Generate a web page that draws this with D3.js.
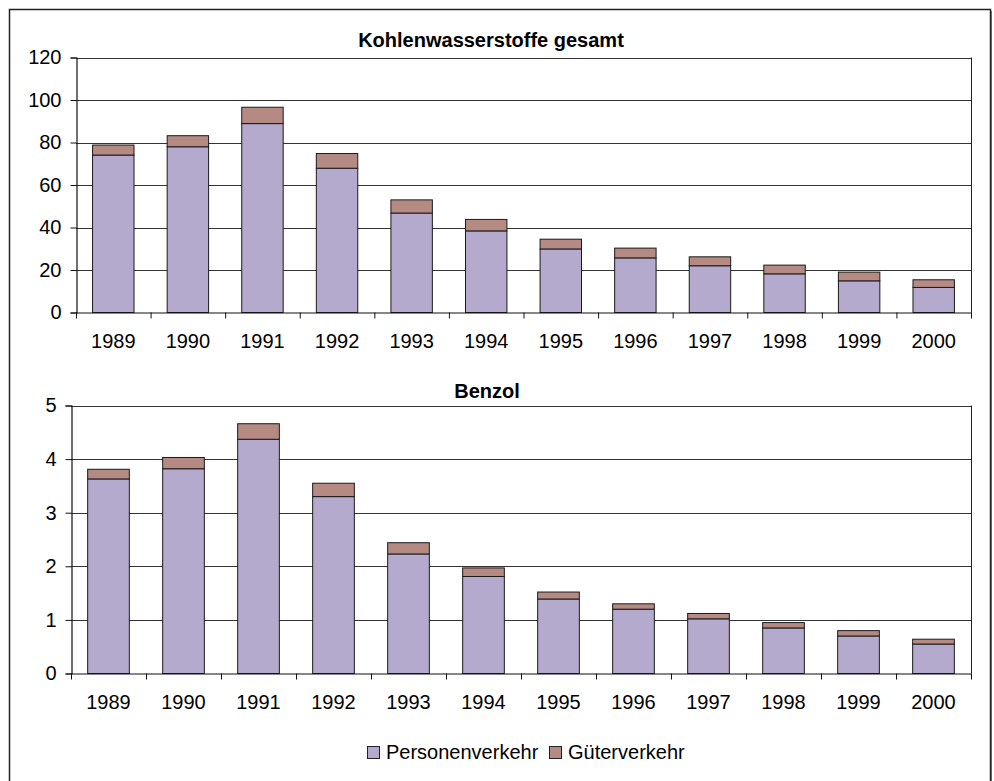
<!DOCTYPE html>
<html lang="de">
<head>
<meta charset="UTF-8">
<title>Kohlenwasserstoffe und Benzol</title>
<style>
  html, body { margin: 0; padding: 0; background: #fff; }
  svg { display: block; font-family: "Liberation Sans", Arial, sans-serif; }
</style>
</head>
<body>
<svg id="chart" width="994" height="781"></svg>
<script src="https://d3js.org/d3.v7.min.js"></script>
<script>
// values
const years = ["1989","1990","1991","1992","1993","1994","1995","1996","1997","1998","1999","2000"];
const seriesNames = ["Personenverkehr", "Güterverkehr"];
const seriesColors = ["#b4aacd", "#b58a83"];

const hcPersonen = [74.1, 78.0, 88.9, 67.9, 46.8, 38.4, 29.9, 25.7, 22.0, 18.2, 14.9, 11.8];
const hcGueter   = [4.7, 5.2, 7.7, 6.9, 6.2, 5.4, 4.6, 4.6, 4.2, 4.1, 4.1, 3.6];
const hcTicks    = [0, 20, 40, 60, 80, 100, 120];

const bzPersonen = [3.63, 3.82, 4.37, 3.30, 2.23, 1.81, 1.39, 1.20, 1.02, 0.85, 0.70, 0.55];
const bzGueter   = [0.18, 0.21, 0.29, 0.25, 0.21, 0.16, 0.13, 0.10, 0.10, 0.10, 0.10, 0.09];
const bzTicks    = [0, 1, 2, 3, 4, 5];

const svg = d3.select("#chart");

// outer frame
svg.append("rect")
  .attr("x", 9.5).attr("y", 9.5)
  .attr("width", 981).attr("height", 800)
  .attr("fill", "none").attr("stroke", "#222").attr("stroke-width", 1.5);
svg.append("line")
  .attr("x1", 991.5).attr("x2", 991.5).attr("y1", 11).attr("y2", 781)
  .attr("stroke", "#666").attr("stroke-width", 1);

function drawPanel(opts){
  const {title, pers, gut, ticks, left, right, top, bottom, titleX, titleY, labelY} = opts;
  const g = svg.append("g");

  const x = d3.scaleBand().domain(years).range([left, right]).paddingInner(0).paddingOuter(0);
  const y = d3.scaleLinear().domain([0, d3.max(ticks)]).range([bottom, top]);
  const barW = x.bandwidth() / 1.8;

  // gridlines
  g.selectAll("line.grid").data(ticks.filter(t => t > 0))
    .join("line")
      .attr("x1", left).attr("x2", right)
      .attr("y1", d => Math.round(y(d)) + 0.5).attr("y2", d => Math.round(y(d)) + 0.5)
      .attr("stroke", "#333").attr("stroke-width", 1);

  // right frame edge
  g.append("line")
    .attr("x1", right + 0.5).attr("x2", right + 0.5)
    .attr("y1", y(d3.max(ticks))).attr("y2", bottom)
    .attr("stroke", "#222");

  // stacked bars
  const rows = years.map((yr, i) => ({yr, vals: [pers[i], gut[i]]}));
  const stack = d3.stack().keys([0, 1]).value((d, k) => d.vals[k]);
  const layers = stack(rows);

  g.selectAll("g.layer").data(layers)
    .join("g")
      .attr("fill", (d, i) => seriesColors[i])
    .selectAll("rect").data(d => d)
    .join("rect")
      .attr("x", d => x(d.data.yr) + (x.bandwidth() - barW) / 2)
      .attr("width", barW)
      .attr("y", d => y(d[1]))
      .attr("height", d => y(d[0]) - y(d[1]))
      .attr("stroke", "#1a1a1a").attr("stroke-width", 1);

  // y axis
  const yAxis = d3.axisLeft(y).tickValues(ticks).tickSize(6).tickPadding(9).tickFormat(d3.format("d"));
  const ya = g.append("g").attr("transform", `translate(${left + 0.5},0)`).call(yAxis);
  ya.select(".domain").attr("stroke", "#111").attr("stroke-width", 1.2);
  ya.selectAll(".tick line").attr("stroke", "#111");
  ya.selectAll(".tick text").attr("font-size", 20).attr("fill", "#000")
    .attr("font-family", "'Liberation Sans', Arial, sans-serif");

  // x axis line and category boundary ticks
  g.append("line")
    .attr("x1", left).attr("x2", right + 1)
    .attr("y1", bottom + 0.5).attr("y2", bottom + 0.5)
    .attr("stroke", "#111").attr("stroke-width", 1.2);
  const bounds = years.map(yr => x(yr)).concat([right]);
  g.selectAll("line.xt").data(bounds)
    .join("line")
      .attr("x1", d => d + 0.5).attr("x2", d => d + 0.5)
      .attr("y1", bottom).attr("y2", bottom + 6)
      .attr("stroke", "#111");

  g.selectAll("text.xl").data(years)
    .join("text")
      .attr("x", d => x(d) + x.bandwidth() / 2)
      .attr("y", labelY)
      .attr("text-anchor", "middle")
      .attr("font-size", 20)
      .text(d => d);

  g.append("text")
    .attr("x", titleX)
    .attr("y", titleY)
    .attr("text-anchor", "middle")
    .attr("font-size", 20).attr("font-weight", "bold")
    .text(title);
}

drawPanel({
  title: "Kohlenwasserstoffe gesamt", pers: hcPersonen, gut: hcGueter, ticks: hcTicks,
  left: 76, right: 971, top: 57.5, bottom: 312.5, titleX: 491, titleY: 47, labelY: 348
});

drawPanel({
  title: "Benzol", pers: bzPersonen, gut: bzGueter, ticks: bzTicks,
  left: 71, right: 971, top: 405.5, bottom: 673.5, titleX: 487, titleY: 398, labelY: 709
});

// legend
const legend = svg.append("g");
const legendX = [367, 549];
seriesNames.forEach((name, i) => {
  legend.append("rect")
    .attr("x", legendX[i] + 0.5).attr("y", 746.5)
    .attr("width", 12).attr("height", 12)
    .attr("fill", seriesColors[i]).attr("stroke", "#222");
  legend.append("text")
    .attr("x", legendX[i] + 19).attr("y", 759)
    .attr("font-size", 20)
    .text(name);
});
</script>
</body>
</html>
